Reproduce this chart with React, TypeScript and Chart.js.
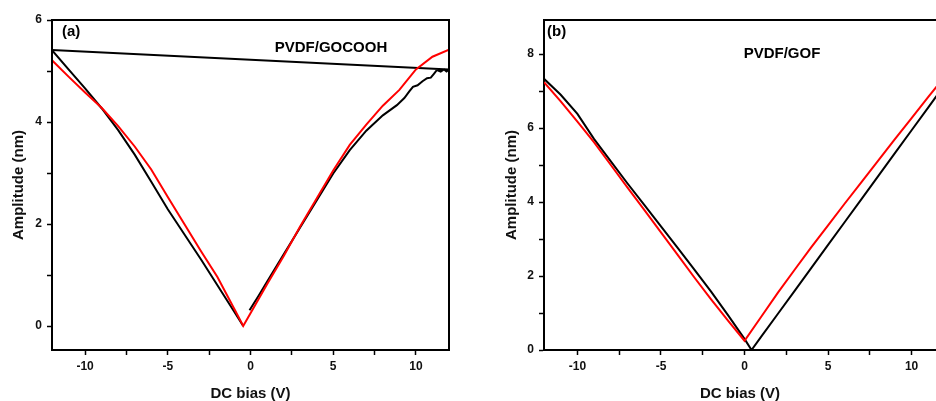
import React, { useEffect, useRef } from "react";
import { Chart, registerables } from "chart.js";

Chart.register(...registerables);

const FONT = "'Liberation Sans', Arial, Helvetica, sans-serif";

// ---------- Panel (a): PVDF/GOCOOH ----------
const aRedX = [-12, -11, -10, -9, -8, -7, -6, -5, -4, -3, -2, -1, -0.44, 0, 1, 2, 3, 4, 5, 6, 7, 8, 9, 10, 11, 12];
const aRedY = [5.21, 4.89, 4.58, 4.28, 3.92, 3.52, 3.07, 2.53, 2.0, 1.47, 0.96, 0.35, 0, 0.25, 0.82, 1.37, 1.95, 2.5, 3.05, 3.55, 3.95, 4.32, 4.63, 5.03, 5.28, 5.42];

const aBlackDownX = [-12, -11, -10, -9, -8, -7, -6, -5, -4, -3, -2, -1, -0.44];
const aBlackDownY = [5.41, 5.03, 4.66, 4.27, 3.84, 3.36, 2.83, 2.29, 1.8, 1.31, 0.8, 0.29, 0];

const aBlackUpX = [-0.06, 0.5, 1, 2, 3, 4, 5, 6, 7, 8, 8.85, 9.3, 9.6, 9.82, 10.1, 10.4, 10.67, 10.9, 11.1, 11.27, 11.5, 11.7, 11.85, 12, -12];
const aBlackUpY = [0.31, 0.6, 0.87, 1.4, 1.93, 2.46, 2.99, 3.45, 3.83, 4.13, 4.33, 4.47, 4.6, 4.69, 4.72, 4.8, 4.86, 4.87, 4.95, 5.02, 4.99, 5.03, 4.99, 5.03, 5.41];

const aXTicks = [-10, -7.5, -5, -2.5, 0, 2.5, 5, 7.5, 10];
const aYTicks = [0, 1, 2, 3, 4, 5, 6];

// ---------- Panel (b): PVDF/GOF ----------
const bRedX = [-12, -11, -10, -9, -8, -7, -6, -5, -4, -3, -2, -1, 0, 1, 2, 3, 4, 5, 6, 7, 8, 9, 10, 11, 12];
const bRedY = [7.24, 6.72, 6.17, 5.61, 5.0, 4.39, 3.79, 3.18, 2.57, 1.96, 1.37, 0.8, 0.25, 0.9, 1.55, 2.17, 2.78, 3.37, 3.96, 4.54, 5.12, 5.7, 6.27, 6.84, 7.4];

const bBlackX = [-12, -11, -10, -9, -8, -7, -6, -5, -4, -3, -2, -1, 0, 0.42, 1, 2, 3, 4, 5, 6, 7, 8, 9, 10, 11, 12];
const bBlackY = [7.33, 6.9, 6.38, 5.7, 5.1, 4.5, 3.92, 3.34, 2.76, 2.17, 1.58, 0.95, 0.3, 0, 0.36, 0.98, 1.6, 2.22, 2.84, 3.46, 4.08, 4.7, 5.32, 5.94, 6.56, 7.18];

const bXTicks = [-10, -7.5, -5, -2.5, 0, 2.5, 5, 7.5, 10];
const bYTicks = [0, 1, 2, 3, 4, 5, 6, 7, 8];

const toPts = (xs: number[], ys: number[]) => xs.map((x, i) => ({ x, y: ys[i] }));

function makeFramePlugin(opts: { full: boolean; tag: string; title: string; titleX: number; titleY: number; tagDX: number }) {
  return {
    id: "frameAndText",
    afterDraw(chart: any) {
      const { ctx, chartArea } = chart;
      const { left, top, right, bottom } = chartArea;
      ctx.save();
      ctx.strokeStyle = "#000";
      ctx.lineWidth = 2;
      ctx.beginPath();
      if (opts.full) {
        ctx.rect(left, top, right - left, bottom - top);
      } else {
        ctx.moveTo(left, top);
        ctx.lineTo(right, top);
      }
      ctx.stroke();
      ctx.fillStyle = "#000";
      ctx.textBaseline = "middle";
      ctx.textAlign = "left";
      ctx.font = `bold 15px ${FONT}`;
      ctx.fillText(opts.tag, left + opts.tagDX, top + 12);
      ctx.textAlign = "center";
      ctx.fillText(opts.title, opts.titleX, opts.titleY);
      ctx.restore();
    },
  };
}

function makeConfig(p: {
  datasets: any[];
  xMin: number;
  xMax: number;
  yMin: number;
  yMax: number;
  xTicks: number[];
  yTicks: number[];
  yAxisWidth: number;
  yTitlePad: number;
  padRight: number;
  plugin: any;
}) {
  const grid = {
    display: true,
    drawOnChartArea: false,
    drawTicks: true,
    tickLength: 5,
    tickColor: "#000",
    tickWidth: 1.5,
  };
  return {
    type: "scatter",
    data: { datasets: p.datasets },
    options: {
      animation: false,
      responsive: false,
      maintainAspectRatio: false,
      layout: { padding: { left: 0, right: p.padRight, top: 20, bottom: 0 } },
      plugins: { legend: { display: false }, tooltip: { enabled: false } },
      elements: { point: { radius: 0 }, line: { tension: 0 } },
      scales: {
        x: {
          type: "linear",
          min: p.xMin,
          max: p.xMax,
          grid,
          border: { display: true, color: "#000", width: 2 },
          afterBuildTicks: (scale: any) => {
            scale.ticks = p.xTicks.map((v) => ({ value: v }));
          },
          afterFit: (scale: any) => {
            scale.height = 51;
          },
          ticks: {
            autoSkip: false,
            maxRotation: 0,
            padding: 4,
            color: "#111",
            font: { family: FONT, size: 12, weight: "bold" },
            callback: (v: any) => (Number(v) % 5 === 0 ? String(v) : ""),
          },
          title: {
            display: true,
            text: "DC bias (V)",
            color: "#111",
            font: { family: FONT, size: 15, weight: "bold", lineHeight: 1 },
            padding: { top: 0, bottom: 0 },
          },
        },
        y: {
          type: "linear",
          min: p.yMin,
          max: p.yMax,
          grid,
          border: { display: true, color: "#000", width: 2 },
          afterBuildTicks: (scale: any) => {
            scale.ticks = p.yTicks.map((v) => ({ value: v }));
          },
          afterFit: (scale: any) => {
            scale.width = p.yAxisWidth;
          },
          ticks: {
            autoSkip: false,
            padding: 5,
            color: "#111",
            font: { family: FONT, size: 12, weight: "bold" },
            callback: (v: any) => (Number(v) % 2 === 0 ? String(v) : ""),
          },
          title: {
            display: true,
            text: "Amplitude (nm)",
            color: "#111",
            font: { family: FONT, size: 15, weight: "bold", lineHeight: 1 },
            padding: { top: p.yTitlePad, bottom: 0 },
          },
        },
      },
    },
    plugins: [p.plugin],
  } as any;
}

export default function App() {
  const refA = useRef<HTMLCanvasElement | null>(null);
  const refB = useRef<HTMLCanvasElement | null>(null);

  useEffect(() => {
    const line = (data: any[], color: string, width = 2) => ({
      data,
      showLine: true,
      borderColor: color,
      backgroundColor: color,
      borderWidth: width,
      pointRadius: 0,
      fill: false,
    });

    const chartA = new Chart(
      refA.current as HTMLCanvasElement,
      makeConfig({
        datasets: [
          line(toPts(aRedX, aRedY), "#ff0000"),
          line(toPts(aBlackDownX, aBlackDownY), "#000000"),
          line(toPts(aBlackUpX, aBlackUpY), "#000000"),
        ],
        xMin: -12,
        xMax: 12,
        yMin: -0.47,
        yMax: 6,
        xTicks: aXTicks,
        yTicks: aYTicks,
        yAxisWidth: 52,
        yTitlePad: 11.5,
        padRight: 21,
        plugin: makeFramePlugin({ full: true, tag: "(a)", title: "PVDF/GOCOOH", titleX: 331, titleY: 48, tagDX: 10 }),
      })
    );

    const chartB = new Chart(
      refB.current as HTMLCanvasElement,
      makeConfig({
        datasets: [
          line(toPts(bRedX, bRedY), "#ff0000"),
          line(toPts(bBlackX, bBlackY), "#000000"),
        ],
        xMin: -12,
        xMax: 11.46,
        yMin: 0,
        yMax: 8.92,
        xTicks: bXTicks,
        yTicks: bYTicks,
        yAxisWidth: 64,
        yTitlePad: 24.5,
        padRight: 0,
        plugin: makeFramePlugin({ full: false, tag: "(b)", title: "PVDF/GOF", titleX: 302, titleY: 54, tagDX: 3 }),
      })
    );

    return () => {
      chartA.destroy();
      chartB.destroy();
    };
  }, []);

  return (
    <div style={{ position: "absolute", left: 0, top: 0, width: 936, height: 401, background: "#fff", overflow: "hidden" }}>
      <canvas ref={refA} width={470} height={401} style={{ position: "absolute", left: 0, top: 0, width: 470, height: 401 }} />
      <canvas ref={refB} width={456} height={401} style={{ position: "absolute", left: 480, top: 0, width: 456, height: 401 }} />
    </div>
  );
}
